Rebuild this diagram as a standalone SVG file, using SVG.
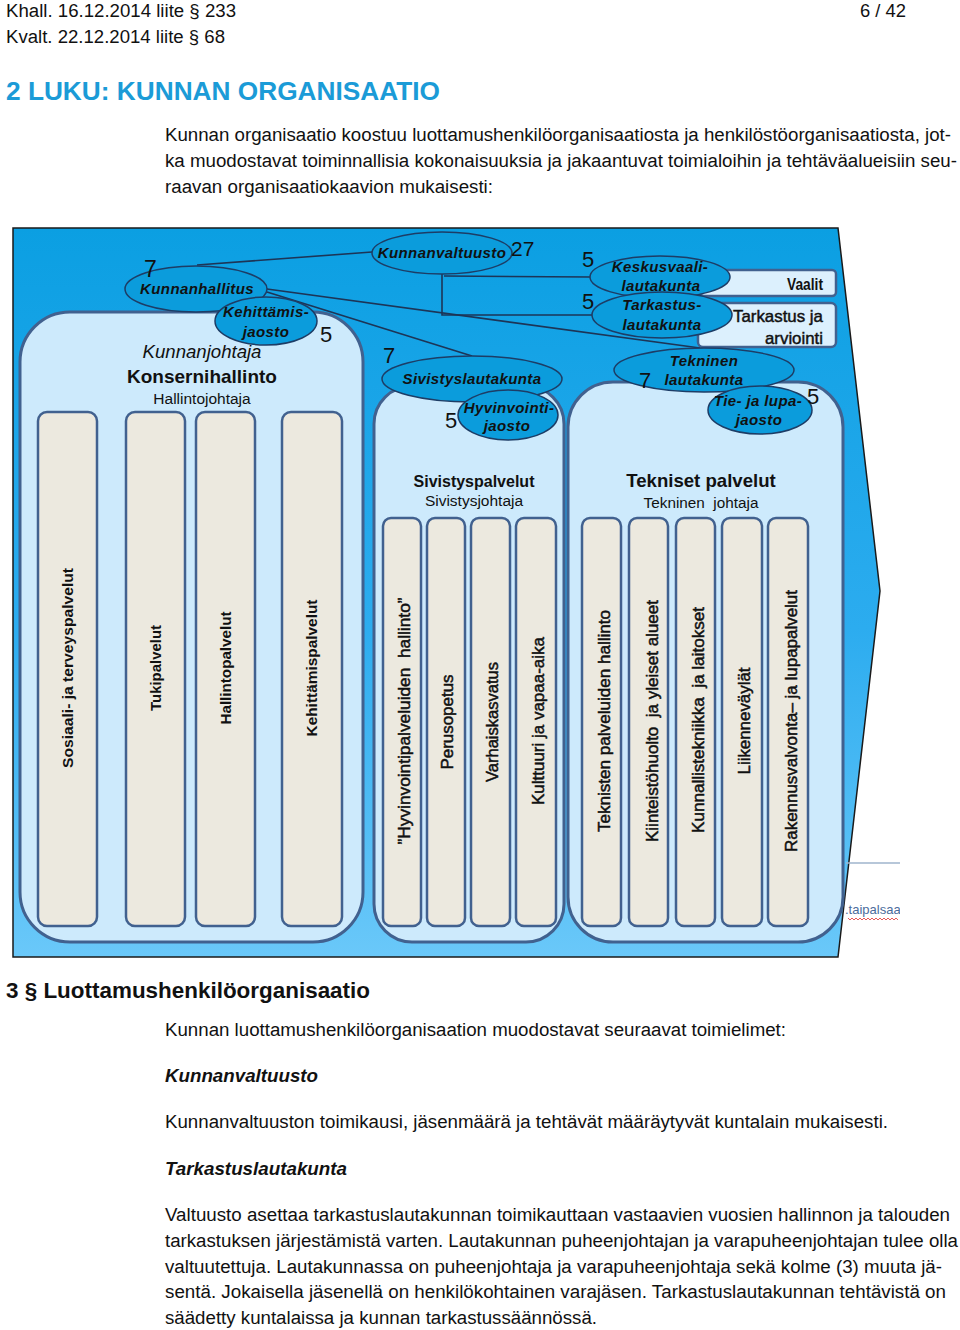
<svg xmlns="http://www.w3.org/2000/svg" width="960" height="1330" viewBox="0 0 960 1330">
<defs>
<linearGradient id="bg" x1="0" y1="0" x2="0" y2="1">
<stop offset="0" stop-color="#0b9fe2"/>
<stop offset="0.55" stop-color="#2cacef"/>
<stop offset="1" stop-color="#6ac8f9"/>
</linearGradient>
<clipPath id="clipR"><rect x="840" y="890" width="60" height="40"/></clipPath>
<style>
text{font-family:"Liberation Sans",Arial,sans-serif;fill:#111}
.body{font-size:18px}
.ttl{font-size:25px;font-weight:bold;fill:#1b9bd7}
.h3{font-size:22px;font-weight:bold}
.bi{font-size:18px;font-weight:bold;font-style:italic}
.el{fill:#0b9cdc;stroke:#1d3d66;stroke-width:1.5}
.elt{font-size:15px;font-weight:bold;font-style:italic;letter-spacing:0.4px;text-anchor:middle}
.num{font-size:22px}
.cont{fill:#cdeafc;stroke:#41618f;stroke-width:3}
.col{fill:#ece9df;stroke:#41618f;stroke-width:2.5}
.box{fill:#dcf0fd;stroke:#41618f;stroke-width:2.5}
.colb{font-size:15px;font-weight:bold;text-anchor:middle}
.colr{font-size:17px;text-anchor:middle;stroke:#111;stroke-width:0.5;white-space:pre}
.conn{stroke:#1d3557;stroke-width:1.6;fill:none}
.mid{text-anchor:middle}
</style>
</defs>
<rect width="960" height="1330" fill="#ffffff"/>

<!-- header text -->
<text class="body" x="6" y="17" textLength="230" lengthAdjust="spacingAndGlyphs">Khall. 16.12.2014 liite § 233</text>
<text class="body" x="860" y="17" textLength="46" lengthAdjust="spacingAndGlyphs">6 / 42</text>
<text class="body" x="6" y="43" textLength="219" lengthAdjust="spacingAndGlyphs">Kvalt. 22.12.2014 liite § 68</text>
<text class="ttl" x="6" y="100" textLength="434" lengthAdjust="spacingAndGlyphs">2 LUKU: KUNNAN ORGANISAATIO</text>
<text class="body" x="165" y="141" textLength="786" lengthAdjust="spacingAndGlyphs">Kunnan organisaatio koostuu luottamushenkilöorganisaatiosta ja henkilöstöorganisaatiosta, jot-</text>
<text class="body" x="165" y="167" textLength="792" lengthAdjust="spacingAndGlyphs">ka muodostavat toiminnallisia kokonaisuuksia ja jakaantuvat toimialoihin ja tehtäväalueisiin seu-</text>
<text class="body" x="165" y="193" textLength="328" lengthAdjust="spacingAndGlyphs">raavan organisaatiokaavion mukaisesti:</text>

<!-- chart background -->
<polygon points="13,228 838,228 880,591 838,957 13,957" fill="url(#bg)" stroke="#1a1a1a" stroke-width="1.5"/>
<line x1="846" y1="863" x2="900" y2="863" stroke="#9fb4cc" stroke-width="1.5"/>
<g clip-path="url(#clipR)">
<text x="845" y="914" style="font-size:13px;fill:#4a6c9c">.taipalsaa</text>
<path d="M848,918 l2,2 l2,-2 l2,2 l2,-2 l2,2 l2,-2 l2,2 l2,-2 l2,2 l2,-2 l2,2 l2,-2 l2,2 l2,-2 l2,2 l2,-2 l2,2 l2,-2 l2,2 l2,-2 l2,2 l2,-2 l2,2 l2,-2 l2,2" fill="none" stroke="#e03030" stroke-width="0.8"/>
</g>

<!-- containers -->
<g id="konsernihallinto">
<rect class="cont" x="20" y="312" width="343" height="630" rx="50"/>
<text class="mid" x="202" y="358" style="font-size:18.6px;font-style:italic">Kunnanjohtaja</text>
<text class="mid" x="202" y="383" style="font-size:19px;font-weight:bold">Konsernihallinto</text>
<text class="mid" x="202" y="404" style="font-size:15.5px">Hallintojohtaja</text>
</g>
<g id="sivistyspalvelut">
<rect class="cont" x="374" y="386" width="190" height="556" rx="38"/>
<text class="mid" x="474" y="487" style="font-size:16px;font-weight:bold">Sivistyspalvelut</text>
<text class="mid" x="474" y="506" style="font-size:15.5px">Sivistysjohtaja</text>
</g>
<g id="tekniset-palvelut">
<rect class="cont" x="568" y="382" width="275" height="560" rx="45"/>
<text class="mid" x="701" y="487" style="font-size:18.6px;font-weight:bold">Tekniset palvelut</text>
<text class="mid" x="701" y="508" style="font-size:15.3px;white-space:pre" xml:space="preserve">Tekninen  johtaja</text>
</g>

<!-- columns -->
<g id="col-sosiaali"><rect class="col" x="38" y="412" width="59" height="514" rx="9"/>
<text class="colb" transform="translate(73,668) rotate(-90)" textLength="200" lengthAdjust="spacingAndGlyphs">Sosiaali- ja terveyspalvelut</text></g>
<g id="col-tuki"><rect class="col" x="126" y="412" width="59" height="514" rx="9"/>
<text class="colb" transform="translate(161,668) rotate(-90)" textLength="86" lengthAdjust="spacingAndGlyphs">Tukipalvelut</text></g>
<g id="col-hallinto"><rect class="col" x="196" y="412" width="59" height="514" rx="9"/>
<text class="colb" transform="translate(231,668) rotate(-90)" textLength="113" lengthAdjust="spacingAndGlyphs">Hallintopalvelut</text></g>
<g id="col-kehittamis"><rect class="col" x="282" y="412" width="60" height="514" rx="9"/>
<text class="colb" transform="translate(317,668) rotate(-90)" textLength="137" lengthAdjust="spacingAndGlyphs">Kehittämispalvelut</text></g>

<g id="col-hyvinvointi"><rect class="col" x="383" y="518" width="38" height="408" rx="8"/>
<text class="colr" transform="translate(410,721) rotate(-90)" xml:space="preserve" textLength="247" lengthAdjust="spacingAndGlyphs">”Hyvinvointipalveluiden  hallinto”</text></g>
<g id="col-perusopetus"><rect class="col" x="427" y="518" width="38" height="408" rx="8"/>
<text class="colr" transform="translate(453,722) rotate(-90)" textLength="95" lengthAdjust="spacingAndGlyphs">Perusopetus</text></g>
<g id="col-varhaiskasvatus"><rect class="col" x="471" y="518" width="39" height="408" rx="8"/>
<text class="colr" transform="translate(498,722) rotate(-90)" textLength="120" lengthAdjust="spacingAndGlyphs">Varhaiskasvatus</text></g>
<g id="col-kulttuuri"><rect class="col" x="516" y="518" width="40" height="408" rx="8"/>
<text class="colr" transform="translate(544,721) rotate(-90)" textLength="168" lengthAdjust="spacingAndGlyphs">Kulttuuri ja vapaa-aika</text></g>

<g id="col-teknhallinto"><rect class="col" x="582" y="518" width="39" height="408" rx="8"/>
<text class="colr" transform="translate(610,721) rotate(-90)" textLength="222" lengthAdjust="spacingAndGlyphs">Teknisten palveluiden hallinto</text></g>
<g id="col-kiinteisto"><rect class="col" x="629" y="518" width="39" height="408" rx="8"/>
<text class="colr" transform="translate(658,721) rotate(-90)" xml:space="preserve" textLength="242" lengthAdjust="spacingAndGlyphs">Kiinteistöhuolto  ja yleiset alueet</text></g>
<g id="col-kunnallistekniikka"><rect class="col" x="676" y="518" width="39" height="408" rx="8"/>
<text class="colr" transform="translate(704,720) rotate(-90)" xml:space="preserve" textLength="226" lengthAdjust="spacingAndGlyphs">Kunnallistekniikka  ja laitokset</text></g>
<g id="col-liikenne"><rect class="col" x="722" y="518" width="40" height="408" rx="8"/>
<text class="colr" transform="translate(750,721) rotate(-90)" textLength="107" lengthAdjust="spacingAndGlyphs">Liikenneväylät</text></g>
<g id="col-rakennus"><rect class="col" x="768" y="518" width="40" height="408" rx="8"/>
<text class="colr" transform="translate(797,721) rotate(-90)" textLength="262" lengthAdjust="spacingAndGlyphs">Rakennusvalvonta– ja lupapalvelut</text></g>

<!-- boxes -->
<g id="vaalit"><rect class="box" x="700" y="270" width="136" height="26" rx="4"/>
<text x="823" y="290" style="font-size:17px;font-weight:bold;text-anchor:end" textLength="36" lengthAdjust="spacingAndGlyphs">Vaalit</text></g>
<g id="tarkastus-arviointi"><rect class="box" x="698" y="303" width="138" height="44" rx="5"/>
<text x="823" y="322" style="font-size:17px;text-anchor:end;stroke:#111;stroke-width:0.45" textLength="90" lengthAdjust="spacingAndGlyphs">Tarkastus ja</text>
<text x="823" y="344" style="font-size:17px;text-anchor:end;stroke:#111;stroke-width:0.45" textLength="58" lengthAdjust="spacingAndGlyphs">arviointi</text></g>

<!-- connectors -->
<g id="connectors">
<path class="conn" d="M372,252 L197,265"/>
<path class="conn" d="M267,289 L700,348"/>
<path class="conn" d="M267,292 L472,356"/>
<path class="conn" d="M444,276 L592,277"/>
<path class="conn" d="M442,273 V315 H593"/>
</g>

<!-- ellipse nodes -->
<g id="kunnanvaltuusto">
<ellipse class="el" cx="442" cy="253" rx="70" ry="21"/>
<text class="elt" x="442" y="258">Kunnanvaltuusto</text>
<text class="num" x="511" y="256" style="font-size:21px">27</text>
</g>
<g id="kunnanhallitus">
<ellipse class="el" cx="196" cy="289" rx="71" ry="23"/>
<text class="elt" x="197" y="294">Kunnanhallitus</text>
<text class="num" x="144" y="277" style="font-size:23px">7</text>
</g>
<g id="kehittamisjaosto">
<ellipse class="el" cx="266" cy="321" rx="51" ry="24"/>
<text class="elt" x="266" y="317">Kehittämis-</text>
<text class="elt" x="266" y="337">jaosto</text>
<text class="num" x="320" y="342">5</text>
</g>
<g id="keskusvaalilautakunta">
<ellipse class="el" cx="660" cy="277" rx="70" ry="21"/>
<text class="elt" x="660" y="272">Keskusvaali-</text>
<text class="elt" x="661" y="291">lautakunta</text>
<text class="num" x="582" y="267">5</text>
</g>
<g id="tarkastuslautakunta">
<ellipse class="el" cx="662" cy="315" rx="70" ry="23"/>
<text class="elt" x="662" y="310">Tarkastus-</text>
<text class="elt" x="662" y="330">lautakunta</text>
<text class="num" x="582" y="309">5</text>
</g>
<g id="sivistyslautakunta">
<ellipse class="el" cx="472" cy="379" rx="90" ry="23"/>
<text class="elt" x="472" y="384">Sivistyslautakunta</text>
<text class="num" x="383" y="363">7</text>
</g>
<g id="hyvinvointijaosto">
<ellipse class="el" cx="508" cy="415" rx="50" ry="25"/>
<text class="elt" x="509" y="413">Hyvinvointi-</text>
<text class="elt" x="507" y="431">jaosto</text>
<text class="num" x="445" y="428">5</text>
</g>
<g id="tekninen-lautakunta">
<ellipse class="el" cx="704" cy="370" rx="90" ry="22"/>
<text class="elt" x="704" y="366">Tekninen</text>
<text class="elt" x="704" y="385">lautakunta</text>
<text class="num" x="639" y="388">7</text>
</g>
<g id="tie-lupajaosto">
<ellipse class="el" cx="760" cy="410" rx="52" ry="24"/>
<text class="elt" x="758" y="406">Tie- ja lupa-</text>
<text class="elt" x="759" y="425">jaosto</text>
<text class="num" x="807" y="404">5</text>
</g>

<!-- lower text -->
<text class="h3" x="6" y="998" textLength="364" lengthAdjust="spacingAndGlyphs">3 § Luottamushenkilöorganisaatio</text>
<text class="body" x="165" y="1036" textLength="621" lengthAdjust="spacingAndGlyphs">Kunnan luottamushenkilöorganisaation muodostavat seuraavat toimielimet:</text>
<text class="bi" x="165" y="1082" textLength="153" lengthAdjust="spacingAndGlyphs">Kunnanvaltuusto</text>
<text class="body" x="165" y="1128" textLength="723" lengthAdjust="spacingAndGlyphs">Kunnanvaltuuston toimikausi, jäsenmäärä ja tehtävät määräytyvät kuntalain mukaisesti.</text>
<text class="bi" x="165" y="1175" textLength="182" lengthAdjust="spacingAndGlyphs">Tarkastuslautakunta</text>
<text class="body" x="165" y="1221" textLength="785" lengthAdjust="spacingAndGlyphs">Valtuusto asettaa tarkastuslautakunnan toimikauttaan vastaavien vuosien hallinnon ja talouden</text>
<text class="body" x="165" y="1247" textLength="793" lengthAdjust="spacingAndGlyphs">tarkastuksen järjestämistä varten. Lautakunnan puheenjohtajan ja varapuheenjohtajan tulee olla</text>
<text class="body" x="165" y="1273" textLength="777" lengthAdjust="spacingAndGlyphs">valtuutettuja. Lautakunnassa on puheenjohtaja ja varapuheenjohtaja sekä kolme (3) muuta jä-</text>
<text class="body" x="165" y="1298" textLength="781" lengthAdjust="spacingAndGlyphs">sentä. Jokaisella jäsenellä on henkilökohtainen varajäsen. Tarkastuslautakunnan tehtävistä on</text>
<text class="body" x="165" y="1324" textLength="432" lengthAdjust="spacingAndGlyphs">säädetty kuntalaissa ja kunnan tarkastussäännössä.</text>
</svg>
